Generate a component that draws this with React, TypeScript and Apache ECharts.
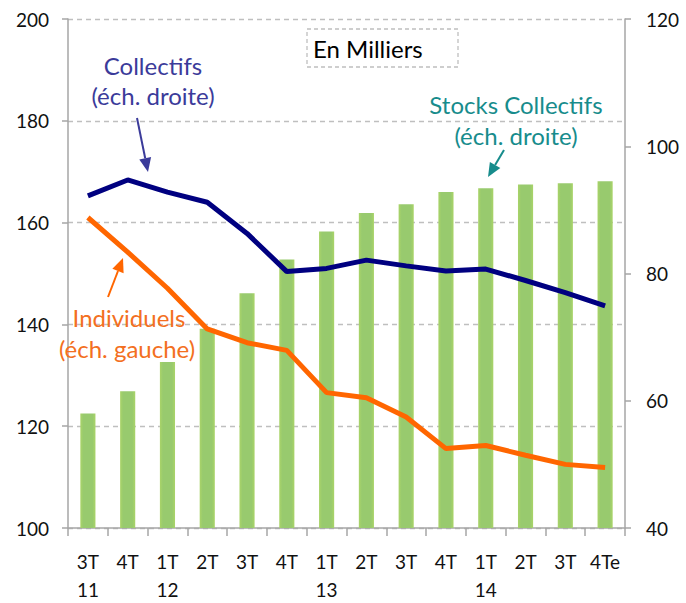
import React, { useEffect, useRef } from "react";
import * as echarts from "echarts";

const categories = ["3T\n11", "4T", "1T\n12", "2T", "3T", "4T", "1T\n13", "2T", "3T", "4T", "1T\n14", "2T", "3T", "4Te"];
const stocksCollectifs = [58.0, 61.5, 66.1, 71.3, 76.9, 82.2, 86.6, 89.5, 90.9, 92.8, 93.4, 94.0, 94.2, 94.5];
const collectifs = [92.2, 94.7, 92.8, 91.2, 86.3, 80.3, 80.8, 82.1, 81.2, 80.4, 80.7, 78.9, 77.0, 74.9];
const individuels = [161.0, 154.2, 147.1, 139.1, 136.4, 134.9, 126.6, 125.6, 121.8, 115.6, 116.2, 114.3, 112.5, 111.9];

const FONT = "Lato, 'Open Sans', sans-serif";

function arrow(x1: number, y1: number, bx: number, by: number, p1: number[], p2: number[], tip: number[], color: string) {
  return [
    { type: "line", shape: { x1, y1, x2: bx, y2: by }, style: { stroke: color, lineWidth: 2 }, silent: true },
    { type: "polygon", shape: { points: [tip, p1, p2] }, style: { fill: color }, silent: true },
  ];
}

export default function App() {
  const ref = useRef<HTMLDivElement>(null);
  useEffect(() => {
    if (!ref.current) return;
    const chart = echarts.init(ref.current, undefined, { renderer: "svg" });
    const blue = "#3B3B9A";
    const teal = "#178C8C";
    const orange = "#F36F21";
    const ann = `24px ${FONT}`;
    chart.setOption({
      animation: false,
      textStyle: { fontFamily: FONT },
      grid: { left: 68, right: 61, top: 19, bottom: 68 },
      xAxis: {
        type: "category",
        data: categories,
        axisLine: { lineStyle: { color: "#A6A6A6", width: 1.5 } },
        axisTick: { show: true, length: 8, lineStyle: { color: "#A6A6A6", width: 1.5 } },
        axisLabel: { interval: 0, margin: 19, fontSize: 19, lineHeight: 28, color: "#111", fontFamily: FONT },
      },
      yAxis: [
        {
          type: "value",
          min: 100,
          max: 200,
          interval: 20,
          position: "left",
          axisLine: { show: true, lineStyle: { color: "#A6A6A6", width: 1.5 } },
          axisTick: { show: true, length: 6, lineStyle: { color: "#A6A6A6", width: 1.5 } },
          axisLabel: { margin: 19, fontSize: 19, color: "#111", fontFamily: FONT },
          splitLine: { show: true, lineStyle: { color: "#BFBFBF", type: [5, 4], width: 1.3 } },
        },
        {
          type: "value",
          min: 40,
          max: 120,
          interval: 20,
          position: "right",
          axisLine: { show: true, lineStyle: { color: "#A6A6A6", width: 1.5 } },
          axisTick: { show: true, length: 6, lineStyle: { color: "#A6A6A6", width: 1.5 } },
          axisLabel: { margin: 21, fontSize: 19, color: "#111", fontFamily: FONT },
          splitLine: { show: false },
        },
      ],
      series: [
        {
          name: "Stocks Collectifs",
          type: "bar",
          yAxisIndex: 1,
          data: stocksCollectifs,
          barWidth: "38%",
          itemStyle: {
            color: new echarts.graphic.LinearGradient(0, 0, 1, 0, [
              { offset: 0, color: "#AAD468" },
              { offset: 0.2, color: "#98CA6E" },
              { offset: 0.8, color: "#98CA6E" },
              { offset: 1, color: "#AAD468" },
            ]),
          },
        },
        {
          name: "Collectifs",
          type: "line",
          yAxisIndex: 1,
          data: collectifs,
          symbol: "none",
          lineStyle: { color: "#000080", width: 5 },
          z: 5,
        },
        {
          name: "Individuels",
          type: "line",
          yAxisIndex: 0,
          data: individuels,
          symbol: "none",
          lineStyle: { color: "#FF6600", width: 5 },
          z: 5,
        },
      ],
      graphic: [
        { type: "rect", shape: { x: 307, y: 29, width: 151, height: 38 }, style: { fill: "#fff", stroke: "#BFBFBF", lineWidth: 1.3, lineDash: [4, 3] }, z: 10 },
        { type: "text", x: 313, y: 48, style: { text: "En Milliers", fill: "#000", font: ann, verticalAlign: "middle", align: "left" }, z: 11 },
        { type: "text", x: 153, y: 65, style: { text: "Collectifs", fill: blue, font: ann, verticalAlign: "middle", align: "center" }, z: 11 },
        { type: "text", x: 153, y: 95, style: { text: "(éch. droite)", fill: blue, font: ann, verticalAlign: "middle", align: "center" }, z: 11 },
        { type: "text", x: 516, y: 104, style: { text: "Stocks Collectifs", fill: teal, font: ann, verticalAlign: "middle", align: "center" }, z: 11 },
        { type: "text", x: 516, y: 135, style: { text: "(éch. droite)", fill: teal, font: ann, verticalAlign: "middle", align: "center" }, z: 11 },
        { type: "text", x: 129, y: 317, style: { text: "Individuels", fill: orange, font: ann, verticalAlign: "middle", align: "center" }, z: 11 },
        { type: "text", x: 127, y: 348, style: { text: "(éch. gauche)", fill: orange, font: ann, verticalAlign: "middle", align: "center" }, z: 11 },
        ...arrow(137, 118, 145.2, 158.3, [151.1, 157.1], [139.3, 159.5], [148, 172], blue),
        ...arrow(504, 150, 495.1, 165, [500.3, 168.1], [489.9, 161.9], [488, 177], teal),
        ...arrow(108, 297, 118, 271, [123.6, 273.2], [112.4, 268.8], [123, 258], "#FF6600"),
      ],
    });
    return () => chart.dispose();
  }, []);
  return <div ref={ref} style={{ position: "fixed", left: 0, top: 0, width: 686, height: 603, background: "#fff" }} />;
}
